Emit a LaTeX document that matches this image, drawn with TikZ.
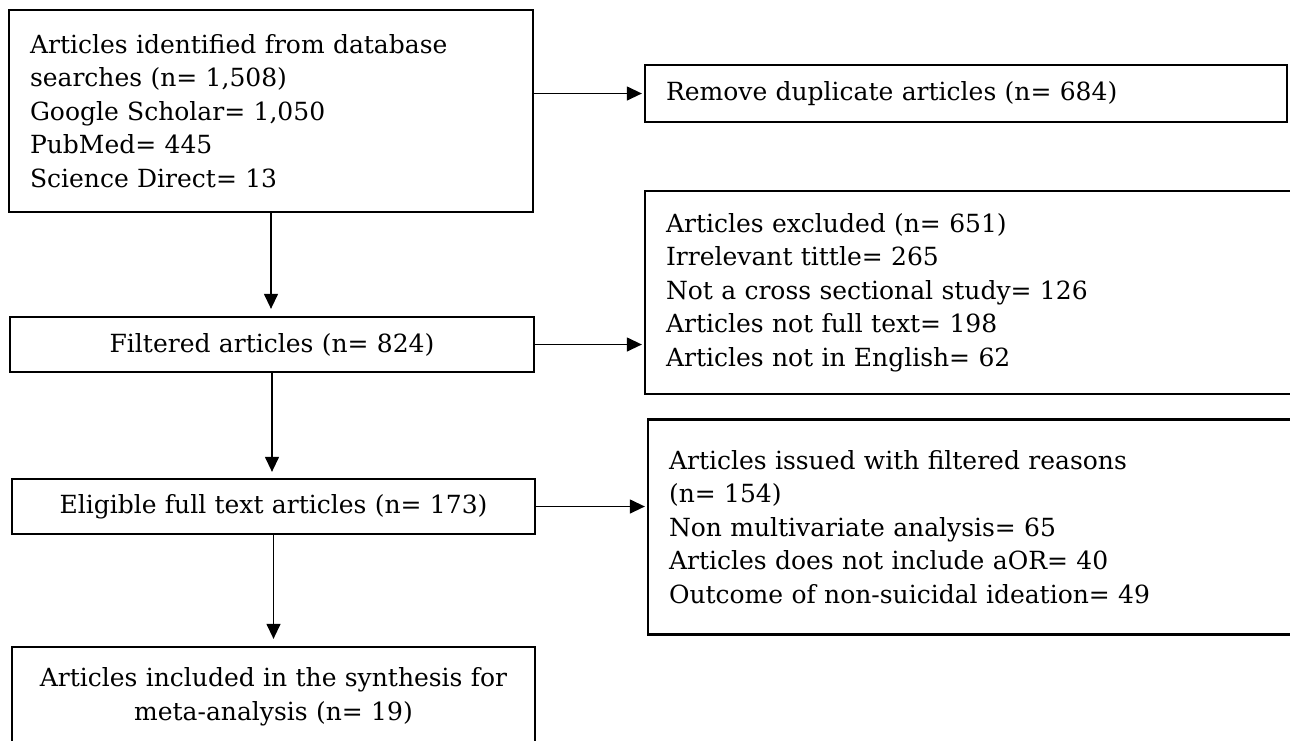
\documentclass[tikz,border=0pt]{standalone}
\usepackage{fontspec}
\setmainfont{DejaVu Serif}
\usetikzlibrary{arrows.meta,calc}

\tikzset{
  flowbox/.style={draw=black, line width=2.3pt, fill=white, inner ysep=0pt,
    font=\fontsize{25}{33.5}\selectfont},
  leftbox/.style={flowbox, align=left, inner xsep=21pt},
  midbox/.style={flowbox, align=center, inner xsep=0pt},
  flowarrow/.style={draw=black, line width=1.3pt,
    -{Triangle[length=15pt,width=14pt]}},
}

\begin{document}
\begin{tikzpicture}[x=1pt, y=-1pt]
  \useasboundingbox (0,0) rectangle (1290,740);
  \clip (0,0) rectangle (1290,740);
  \fill[white] (0,0) rectangle (1290,740);

  % left column
  \node[leftbox, minimum width=524pt, minimum height=202pt, text width=482pt]
    (ident) at (271,111)
    {Articles identified from database\\
     searches (n= 1,508)\\
     Google Scholar= 1,050\\
     PubMed= 445\\
     Science Direct= 13};

  \node[midbox, minimum width=524pt, minimum height=55pt, text width=524pt]
    (filt) at (272,344.5) {Filtered articles (n= 824)};

  \node[midbox, minimum width=523pt, minimum height=55pt, text width=523pt]
    (elig) at (273.5,506.5) {Eligible full text articles (n= 173)};

  % bottom edge of this box runs past the lower border of the page
  \node[midbox, minimum width=523pt, minimum height=100pt, text width=523pt]
    (incl) at (273.5,697)
    {Articles included in the synthesis for\\ meta-analysis (n= 19)};

  % right column
  \node[leftbox, minimum width=642pt, minimum height=57pt, text width=600pt]
    (dup) at (966,93.5) {Remove duplicate articles (n= 684)};

  \node[leftbox, minimum width=675pt, minimum height=203pt, text width=633pt]
    (excl) at (982.5,292.5)
    {Articles excluded (n= 651)\\
     Irrelevant tittle= 265\\
     Not a cross sectional study= 126\\
     Articles not full text= 198\\
     Articles not in English= 62};

  \node[leftbox, minimum width=672pt, minimum height=215pt, text width=630pt]
    (issued) at (984,527)
    {Articles issued with filtered reasons\\
     (n= 154)\\
     Non multivariate analysis= 65\\
     Articles does not include aOR= 40\\
     Outcome of non-suicidal ideation= 49};

  % connectors
  \draw[flowarrow, shorten >=2pt] (dup.west -| ident.east) -- (dup.west);
  \draw[flowarrow, shorten >=2pt] (filt.east) -- (filt.east -| excl.west);
  \draw[flowarrow, shorten >=2pt] (elig.east) -- (elig.east -| issued.west);
  \draw[flowarrow, shorten >=7pt] (ident.south) -- (ident.south |- filt.north);
  \draw[flowarrow, shorten >=6pt] (filt.south) -- (filt.south |- elig.north);
  \draw[flowarrow, shorten >=7pt] (elig.south) -- (elig.south |- incl.north);
\end{tikzpicture}
\end{document}
